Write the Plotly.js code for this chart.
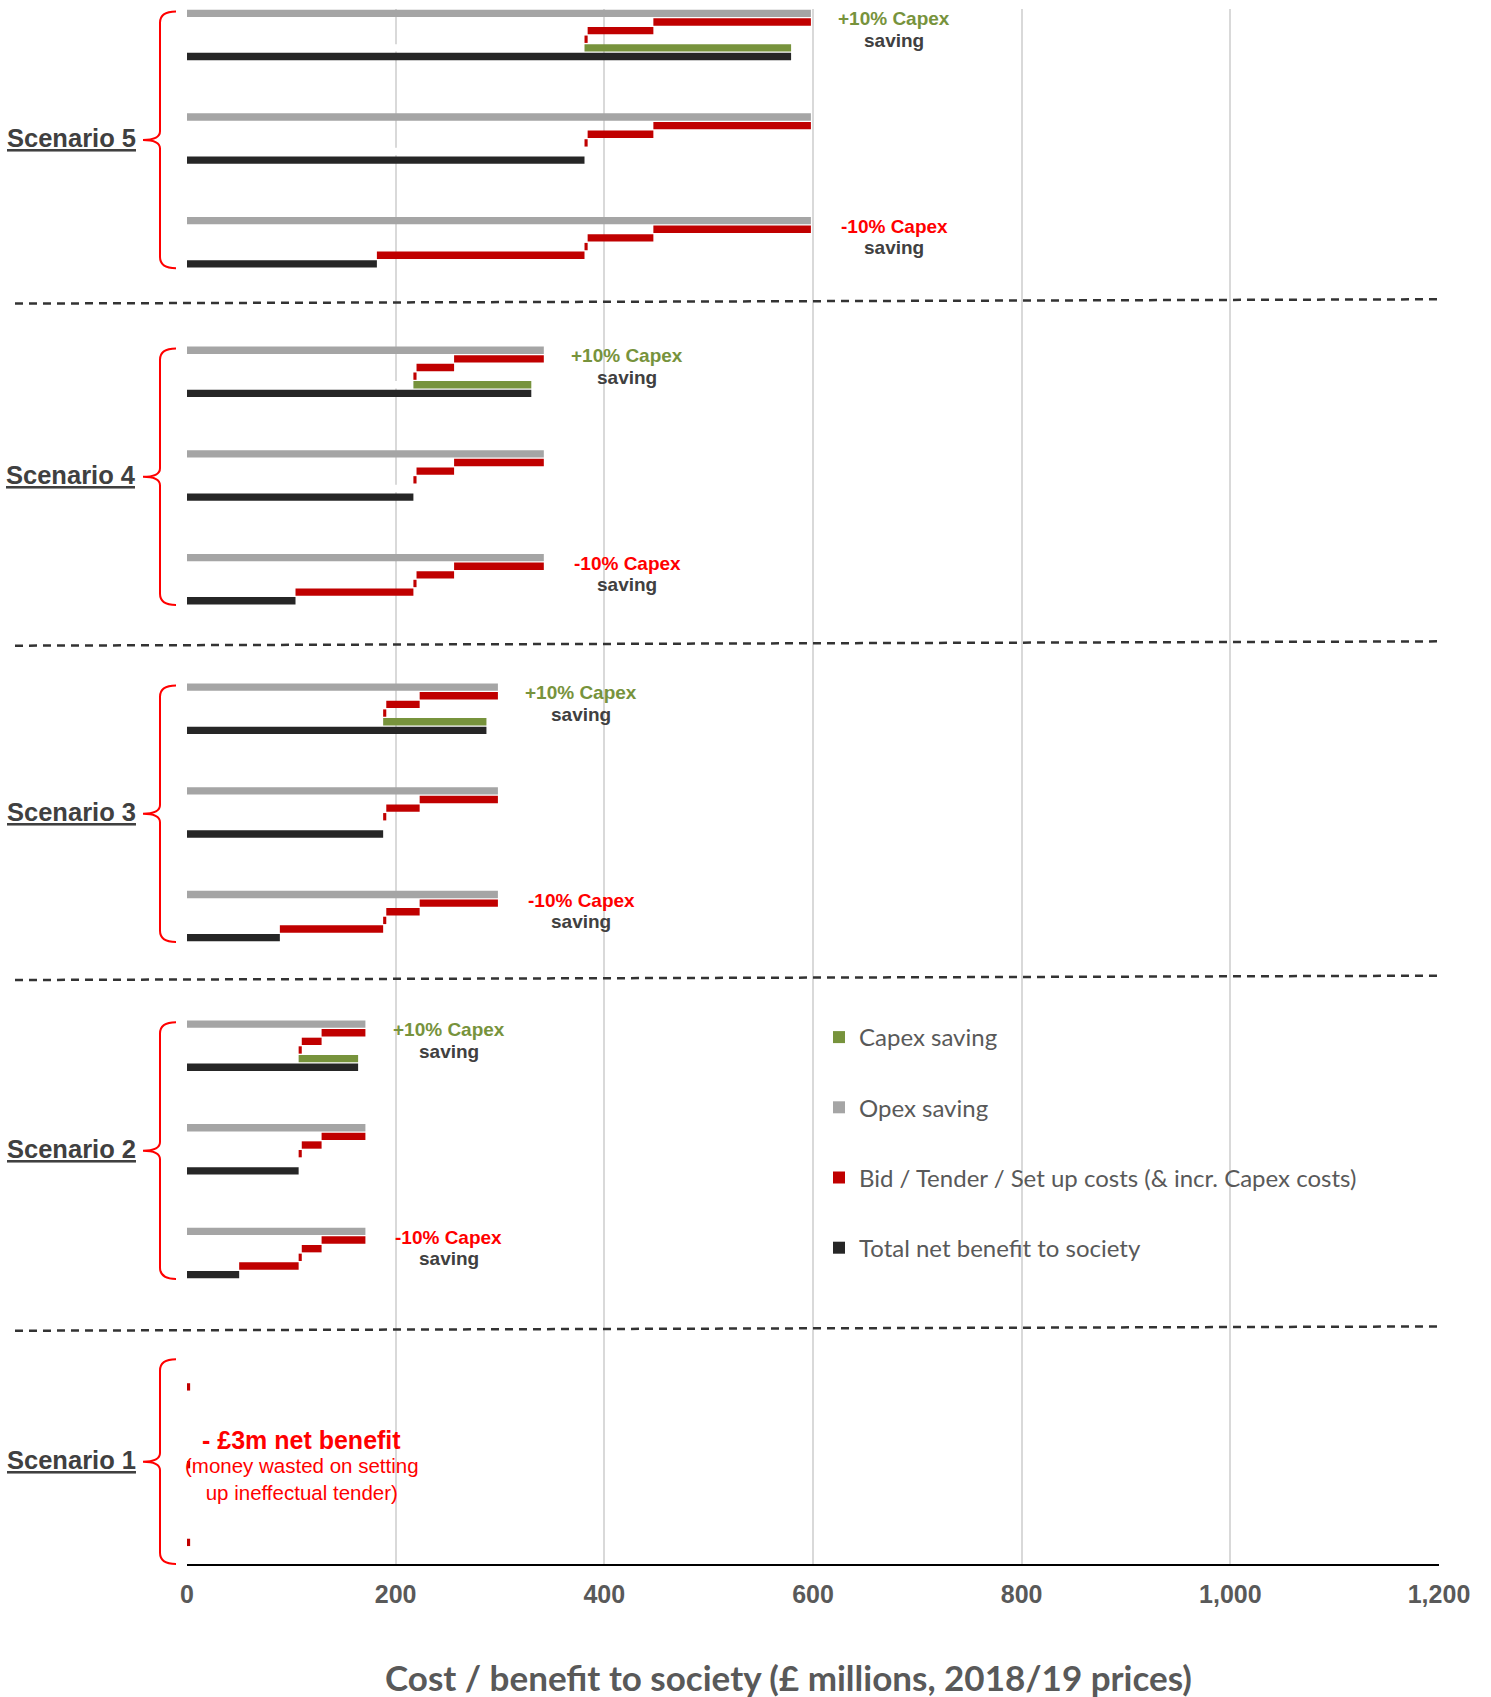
<!DOCTYPE html>
<html>
<head>
<meta charset="utf-8">
<script src="https://cdn.plot.ly/plotly-3.0.1.min.js"></script>
<style>
  html, body { margin: 0; padding: 0; background: #ffffff; }
  #chart { width: 1491px; height: 1697px; }
</style>
</head>
<body>
<div id="chart"></div>
<script>
// ---- Data (£ millions, 2018/19 prices) ----
const scenarios = ['Scenario 5', 'Scenario 4', 'Scenario 3', 'Scenario 2', 'Scenario 1'];
const opexSaving = [598, 342, 298, 171, 0];
const bidCost = [151, 86, 75, 42, 0];
const tenderCost = [63, 36, 32, 19, 0];
const setUpCost = [3, 3, 3, 3, 3];
const netHighCapex = [579, 330, 287, 164, -3];   // +10% Capex saving case
const netCentral = [381, 217, 188, 107, -3];
const netLowCapex = [182, 104, 89, 50, -3];      // -10% Capex saving case
const caseNotes = ['+10% Capex', null, '-10% Capex'];
const tickValues = [0, 200, 400, 600, 800, 1000, 1200];
const tickLabels = ['0', '200', '400', '600', '800', '1,000', '1,200'];
const seriesNames = ['Capex saving', 'Opex saving', 'Bid / Tender / Set up costs (& incr. Capex costs)', 'Total net benefit to society'];

// ---- Row layout (one row per bar, top to bottom) ----
const ROWS_PER_SCENARIO = 39;
const CASE_STEP = [12, 12, 12, 12, 9];
const TOTAL_ROWS = 180;
const BAR_W = 0.85;

const COLORS = { capex: '#77933C', opex: '#A5A5A5', cost: '#C00000', total: '#262626' };
const ARIAL = 'Liberation Sans, Arial, sans-serif';
const CALIBRI = 'Lato, Carlito, sans-serif';

const baseBars = { x: [], y: [] };
const maskBars = { x: [], y: [] };
const capexBars = { x: [], y: [] };
const opexBars = { x: [], y: [] };
const costBars = { x: [], y: [] };
const totalBars = { x: [], y: [] };
const push = (s, y, x) => { s.y.push(y); s.x.push(x); };

const scenarioRows = [];
const noteAnns = [];

scenarios.forEach((name, i) => {
  const start = i * ROWS_PER_SCENARIO;
  const step = CASE_STEP[i];
  const nets = [netHighCapex[i], netCentral[i], netLowCapex[i]];
  for (let k = 0; k < 3; k++) {
    const r0 = start + k * step;
    const row = n => r0 + n + 0.5;
    const afterBid = opexSaving[i] - bidCost[i];
    const afterTender = afterBid - tenderCost[i];
    push(opexBars, row(0), opexSaving[i]);
    push(baseBars, row(1), afterBid);     push(costBars, row(1), bidCost[i]);
    push(baseBars, row(2), afterTender);  push(costBars, row(2), tenderCost[i]);
    push(baseBars, row(3), netCentral[i]); push(costBars, row(3), setUpCost[i]);
    if (k === 0) {
      push(maskBars, row(4), netCentral[i]);
      push(capexBars, row(4), netHighCapex[i] - netCentral[i]);
    } else if (k === 1) {
      push(maskBars, row(4), netCentral[i]);
    } else {
      push(maskBars, row(4), netLowCapex[i]);
      push(costBars, row(4), netCentral[i] - netLowCapex[i]);
    }
    push(totalBars, row(5), nets[k]);

    // "+/-10% Capex / saving" notes beside each sensitivity case
    if (caseNotes[k] && opexSaving[i] > 0) {
      const col = k === 0 ? COLORS.capex : '#FF0000';
      const xc = opexSaving[i] + 80;
      const yc = r0 + 2.4;
      noteAnns.push({
        xref: 'x', yref: 'y', x: xc, y: yc - 1.25, text: caseNotes[k],
        showarrow: false, xanchor: 'center', yanchor: 'middle',
        font: { family: ARIAL, size: 19, color: col, weight: 700 }
      });
      noteAnns.push({
        xref: 'x', yref: 'y', x: xc, y: yc + 1.25, text: 'saving',
        showarrow: false, xanchor: 'center', yanchor: 'middle',
        font: { family: ARIAL, size: 19, color: '#404040', weight: 700 }
      });
    }
  }
  scenarioRows.push({ top: start, bottom: start + 2 * step + 6 });
});

const barTrace = (s, name, color, extra) => Object.assign({
  type: 'bar', orientation: 'h', x: s.x, y: s.y, name: name, width: BAR_W,
  marker: { color: color, line: { width: 0 } }, legendgroup: name
}, extra || {});

const traces = [
  barTrace(baseBars, 'base', 'rgba(0,0,0,0)', { showlegend: false, hoverinfo: 'skip' }),
  barTrace(maskBars, 'mask', '#ffffff', { showlegend: false, hoverinfo: 'skip' }),
  barTrace(capexBars, seriesNames[0], COLORS.capex),
  barTrace(opexBars, seriesNames[1], COLORS.opex),
  barTrace(costBars, seriesNames[2], COLORS.cost),
  barTrace(totalBars, seriesNames[3], COLORS.total)
];

// ---- Decorations: braces, scenario labels, separators ----
const M = { l: 187, r: 52, t: 9, b: 133 };
const plotW = 1491 - M.l - M.r;
const plotH = 1697 - M.t - M.b;
const px = v => (v - M.l) / plotW;          // pixel column -> paper x
const py = row => 1 - row / TOTAL_ROWS;      // row -> paper y

const shapes = [];
const annotations = [];

scenarioRows.forEach((s, i) => {
  const top = s.top + 0.3, bot = s.bottom, mid = (top + bot) / 2;
  const xh = px(176), xv = px(160), xt = px(143);
  const d = `M ${xh},${py(top)} Q ${xv},${py(top)} ${xv},${py(top + 1.3)} ` +
            `L ${xv},${py(mid - 1)} Q ${xv},${py(mid)} ${xt},${py(mid)} ` +
            `Q ${xv},${py(mid)} ${xv},${py(mid + 1)} ` +
            `L ${xv},${py(bot - 1.3)} Q ${xv},${py(bot)} ${xh},${py(bot)}`;
  shapes.push({ type: 'path', xref: 'paper', yref: 'paper', path: d,
                line: { color: '#FF0000', width: 2 } });
  annotations.push({
    xref: 'paper', yref: 'paper', x: px(138), y: py(mid - 0.2),
    xanchor: 'right', yanchor: 'middle', showarrow: false, text: scenarios[i],
    font: { family: ARIAL, size: 25.5, color: '#404040', weight: 700, lineposition: 'under' }
  });
});

const separatorRows = [[34.1, 33.6], [73.7, 73.2], [112.4, 111.9], [153.0, 152.5]];
separatorRows.forEach(([yl, yr]) => {
  shapes.push({ type: 'line', xref: 'paper', yref: 'paper',
                x0: px(15), x1: 1, y0: py(yl), y1: py(yr),
                line: { color: '#333333', width: 2.5, dash: '8px,6px' } });
});

// Scenario 1 call-out
const s1 = scenarios.length - 1;
annotations.push({
  xref: 'x', yref: 'y', x: 110, y: 165.6, showarrow: false,
  text: `- £${-netCentral[s1]}m net benefit`,
  font: { family: ARIAL, size: 25, color: '#FF0000', weight: 700 }
});
annotations.push({
  xref: 'x', yref: 'y', x: 110, y: 170.2, showarrow: false, align: 'center',
  text: '(money wasted on setting<br>up ineffectual tender)',
  font: { family: ARIAL, size: 20.5, color: '#FF0000' }
});

// Axis title
annotations.push({
  xref: 'paper', yref: 'paper', x: px(788), y: 1 - (1677 - M.t) / plotH,
  xanchor: 'center', yanchor: 'middle', showarrow: false,
  text: 'Cost / benefit to society (£ millions, 2018/19 prices)',
  font: { family: CALIBRI, size: 35, color: '#595959', weight: 700 }
});

annotations.push(...noteAnns);

const layout = {
  width: 1491, height: 1697,
  margin: M,
  paper_bgcolor: '#ffffff', plot_bgcolor: '#ffffff',
  barmode: 'relative',
  showlegend: true,
  legend: {
    x: px(819), xanchor: 'left', y: 1 - (1015 - M.t) / plotH, yanchor: 'top',
    traceorder: 'grouped', tracegroupgap: 36, bgcolor: 'rgba(0,0,0,0)',
    font: { family: CALIBRI, size: 24, color: '#595959' }
  },
  xaxis: {
    range: [0, 1200], tickvals: tickValues, ticktext: tickLabels,
    showgrid: true, gridcolor: '#D9D9D9', gridwidth: 2, zeroline: false,
    showline: true, linecolor: '#000000', linewidth: 2,
    ticks: 'outside', ticklen: 7, tickcolor: 'rgba(0,0,0,0)',
    tickfont: { family: ARIAL, size: 25, color: '#595959', weight: 700 },
    fixedrange: true
  },
  yaxis: {
    range: [TOTAL_ROWS, 0], visible: false, showgrid: false, zeroline: false, fixedrange: true
  },
  shapes: shapes,
  annotations: annotations
};

Plotly.newPlot('chart', traces, layout, { displayModeBar: false, staticPlot: true });
</script>
</body>
</html>
